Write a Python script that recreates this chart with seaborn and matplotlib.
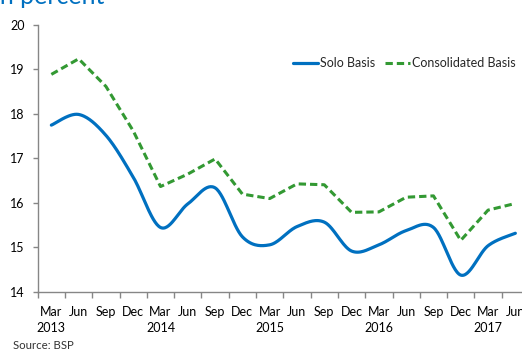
import numpy as np
import pandas as pd
import matplotlib
matplotlib.use("Agg")
import matplotlib.pyplot as plt
import seaborn as sns

# Capital adequacy ratio of universal/commercial banks, quarterly
quarters = ["Mar", "Jun", "Sep", "Dec",
            "Mar", "Jun", "Sep", "Dec",
            "Mar", "Jun", "Sep", "Dec",
            "Mar", "Jun", "Sep", "Dec",
            "Mar", "Jun"]
years = ["2013", "", "", "",
         "2014", "", "", "",
         "2015", "", "", "",
         "2016", "", "", "",
         "2017", ""]
solo = [17.75, 17.99, 17.52, 16.58, 15.45, 15.98, 16.34, 15.24, 15.06,
        15.47, 15.57, 14.92, 15.06, 15.38, 15.45, 14.38, 15.04, 15.32]
consolidated = [18.89, 19.24, 18.62, 17.62, 16.37, 16.65, 16.99, 16.20, 16.10,
                16.43, 16.41, 15.79, 15.80, 16.13, 16.16, 15.16, 15.84, 15.99]

BLUE = "#0070C0"
GREEN = "#339933"
GRAY = "#868686"
FS = 9.0

sns.set_theme(style="white")
plt.rcParams["font.family"] = ["Lato", "DejaVu Sans"]


def smooth_curve(x, y, steps=30):
    """Cubic Bezier segments through every point (spreadsheet-style smoothing)."""
    x = np.asarray(x, float)
    y = np.asarray(y, float)
    n = len(x)
    px = np.concatenate([[x[0]], x, [x[-1]]])
    py = np.concatenate([[y[0]], y, [y[-1]]])
    out_x, out_y = [x[0]], [y[0]]
    t = np.linspace(0, 1, steps + 1)[1:]
    for i in range(n - 1):
        p0x, p0y = px[i], py[i]
        p1x, p1y = px[i + 1], py[i + 1]
        p2x, p2y = px[i + 2], py[i + 2]
        p3x, p3y = px[i + 3], py[i + 3]
        c1x, c1y = p1x + (p2x - p0x) / 6, p1y + (p2y - p0y) / 6
        c2x, c2y = p2x - (p3x - p1x) / 6, p2y - (p3y - p1y) / 6
        bx = ((1 - t) ** 3) * p1x + 3 * ((1 - t) ** 2) * t * c1x + 3 * (1 - t) * t ** 2 * c2x + t ** 3 * p2x
        by = ((1 - t) ** 3) * p1y + 3 * ((1 - t) ** 2) * t * c1y + 3 * (1 - t) * t ** 2 * c2y + t ** 3 * p2y
        out_x.extend(bx)
        out_y.extend(by)
    return np.array(out_x), np.array(out_y)


pos = np.arange(len(quarters))
df = pd.DataFrame({"pos": pos, "solo": solo, "consolidated": consolidated})
sx, sy = smooth_curve(df["pos"], df["solo"])
smooth_df = pd.DataFrame({"pos": sx, "solo": sy})

fig = plt.figure(figsize=(5.22, 3.49), dpi=100)
ax = fig.add_axes([37.7 / 522, 57 / 349, (529 - 37.7) / 522, 267 / 349])

sns.lineplot(data=smooth_df, x="pos", y="solo", ax=ax, color=BLUE,
             linewidth=2.3, sort=False, estimator=None, label="Solo Basis")
sns.lineplot(data=df, x="pos", y="consolidated", ax=ax, color=GREEN,
             linewidth=2.2, linestyle=(0, (2.4, 1.3)), sort=False,
             estimator=None, label="Consolidated Basis")

ax.set_xlim(-0.5, len(quarters) - 0.5)
ax.set_ylim(14, 20)
ax.set_yticks(np.arange(14, 21, 1))
ax.set_xticks(np.arange(-0.5, len(quarters), 1))
ax.set_xticklabels([])
ax.set_xticks(pos, minor=True)
ax.set_xticklabels([q + ("\n" + y if y else "") for q, y in zip(quarters, years)],
                   minor=True, fontsize=FS, linespacing=1.4, va="top")
ax.set_xlabel("")
ax.set_ylabel("")

ax.tick_params(axis="x", which="major", direction="out", length=4, width=1,
               color=GRAY, bottom=True)
ax.tick_params(axis="x", which="minor", length=0, pad=10, labelsize=FS,
               labelcolor="black")
ax.tick_params(axis="y", which="major", direction="out", length=3.5, width=1,
               color=GRAY, left=True, pad=6, labelsize=FS, labelcolor="black")

sns.despine(ax=ax)
for side in ("left", "bottom"):
    ax.spines[side].set_color(GRAY)
    ax.spines[side].set_linewidth(1)

ax.legend(loc="center left", bbox_to_anchor=((293 - 37.7) / (529 - 37.7), (292 - 63) / 267),
          ncol=2, frameon=False, fontsize=FS, handlelength=2.0, handletextpad=0.15,
          columnspacing=0.8, borderpad=0, borderaxespad=0)

fig.text(-0.014, 1 - 3.5 / 349, "In percent", color=BLUE, fontsize=18, va="baseline")
fig.text(13 / 522, 1 - 340 / 349, "Source: BSP", color="#333333", fontsize=FS - 0.8, va="top")

fig.savefig("out.png", dpi=100)
